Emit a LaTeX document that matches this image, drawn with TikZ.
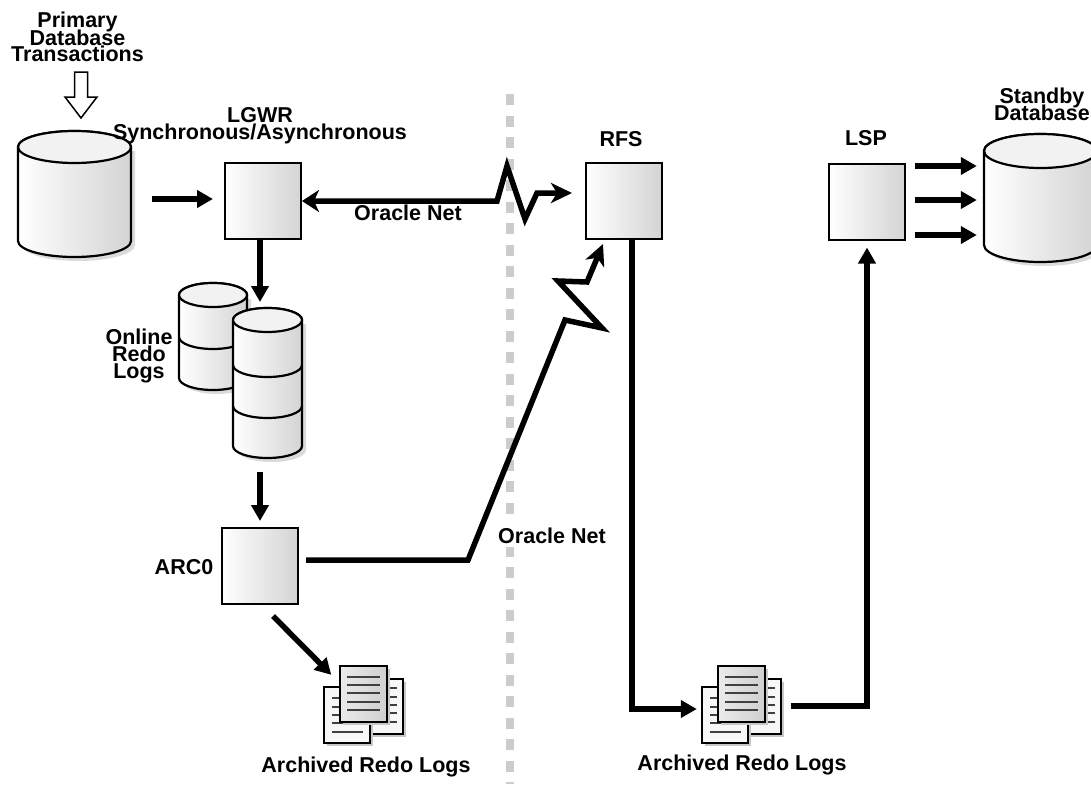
\documentclass[tikz,border=0pt]{standalone}
\usepackage{fontspec}
\setmainfont{Liberation Sans}
\usetikzlibrary{arrows.meta,calc}
\newcommand\lblfont{\fontsize{21.5}{17}\selectfont\bfseries\lineskiplimit-50pt\relax}
\newcommand\dbcyl[5]{% cx, ytop, ybot, rx, ry
  \fill[black!14] (#1-#4+4,#2+4) -- (#1-#4+4,#3+4) arc[start angle=180,end angle=0,x radius=#4,y radius=#5]
    -- (#1+#4+4,#2+4) -- cycle;
  \path[draw, line width=2.2pt, left color=white, right color=black!17]
    (#1-#4,#2) -- (#1-#4,#3) arc[start angle=180,end angle=0,x radius=#4,y radius=#5]
    -- (#1+#4,#2) arc[start angle=0,end angle=-180,x radius=#4,y radius=#5] -- cycle;
  \draw[line width=2.2pt, fill=black!5] (#1,#2) ellipse[x radius=#4, y radius=#5];
}
\newcommand\dbdiv[4]{% cx, y, rx, ry
  \draw[line width=2.2pt] (#1-#3,#2) arc[start angle=180,end angle=0,x radius=#3,y radius=#4];
}
\newcommand\archicon[2]{% top-left of left page
  \begin{scope}[shift={(#1,#2)}]
    % right page
    \fill[black!22] (36,-5) rectangle (82,50);
    \draw[docpage] (33,-8) rectangle (79,47);
    \foreach \yy in {1,10,18,26,35} \draw[pline] (41,\yy) -- (73,\yy);
    % left page
    \fill[black!22] (3,3) rectangle (49,59);
    \draw[docpage] (0,0) rectangle (46,56);
    \foreach \yy in {11,20,28,36} \draw[pline] (8,\yy) -- (38,\yy);
    \draw[pline] (8,45) -- (39,45);
    % middle page
    \fill[black!22] (19,-18) rectangle (66,38);
    \draw[midpage] (16,-21) rectangle (63,35);
    \foreach \yy in {-10,-2,6,15,23} \draw[pline] (23,\yy) -- (56,\yy);
  \end{scope}
}
\begin{document}
\begin{tikzpicture}[x=1pt,y=-1pt,
  lbl/.style={font=\lblfont, inner sep=0pt, align=center},
  box/.style={draw, line width=2pt, minimum size=76pt, inner sep=0pt, left color=white, right color=black!17},
  arr/.style={line width=5.5pt, line join=miter, -{Triangle[length=16pt,width=17pt]}},
  zz/.style={line width=5.5pt, line join=miter},
  stl/.style={-{Stealth[length=21pt,width=20pt,inset=6pt]}},
  sep/.style={line width=8pt, draw=black!20, dash pattern=on 11pt off 10.5pt},
  docpage/.style={draw=black, line width=1.4pt, fill=black!3},
  midpage/.style={draw=black, line width=1.4pt, left color=black!8, right color=black!19},
  pline/.style={line width=1.3pt, draw=black!75},
]
\useasboundingbox (0,0) rectangle (1091,784);

% separator
\draw[sep] (510,94) -- (510,784);

% primary database
\dbcyl{74.5}{147}{241}{56.5}{16}
\node[inner sep=0pt, minimum width=115pt, minimum height=130pt] (pdb) at (74.5,195) {};
\draw[line width=1.5pt, fill=white] (74.5,72) -- (87.5,72) -- (87.5,97) -- (97,97) -- (81,118) -- (65,97) -- (74.5,97) -- cycle;
\node[lbl, anchor=base] (ptx) at (77.5,62) {Primary\\Database\\Transactions};

% standby database
\dbcyl{1040.5}{151}{245}{56.5}{17}
\node[inner sep=0pt, minimum width=115pt, minimum height=130pt] (sdb) at (1040.5,198) {};
\node[lbl, anchor=base] (sbl) at (1042,120) {Standby\\Database};

% online redo logs
\dbcyl{213}{295}{378}{34}{12}
\dbdiv{213}{337}{34}{12}
\dbcyl{267.5}{320}{446}{34.5}{12}
\dbdiv{267.5}{365}{34.5}{12}
\dbdiv{267.5}{406}{34.5}{12}
\coordinate (redoin) at (260,302);
\coordinate (redoout) at (260,472);
\node[lbl, anchor=base] (orl) at (139,378) {Online\\Redo\\Logs};

% process boxes
\node[box] (lgwr) at (263,201) {};
\node[box] (rfs) at (624,201) {};
\node[box] (lsp) at (867,201.5) {};
\node[box] (arc0) at (260,566) {};

\node[lbl, anchor=base] (lgwrl) at (260,139) {LGWR\\Synchronous/Asynchronous};
\node[lbl, anchor=base] (rfsl) at (621,146) {RFS};
\node[lbl, anchor=base] (lspl) at (866,145) {LSP};
\node[lbl, anchor=base] (arcl) at (184,574) {ARC0};
\node[lbl, anchor=base] (on1) at (408,220) {Oracle Net};

% archived redo logs
\archicon{324}{687}
\node[inner sep=0pt, minimum width=80pt, minimum height=77pt] (ar1) at (363.5,704.5) {};
\archicon{702}{687}
\node[inner sep=0pt, minimum width=80pt, minimum height=77pt] (ar2) at (742,704.5) {};
\node[lbl, anchor=base] (al1) at (366,772) {Archived Redo Logs};
\node[lbl, anchor=base] (al2) at (742,770) {Archived Redo Logs};

% connectors
\draw[arr] ($(pdb.east |- lgwr.west)+(20,-2)$) -- ($(lgwr.west)+(-11,-2)$);
\draw[zz, {Stealth[length=17pt,width=22pt,inset=5pt]}-{Stealth[length=21pt,width=20pt,inset=6pt]}]
  (lgwr.east) -- ++(195,0) -- ++(10,-35) -- ++(18,53) -- ++(12,-26) -- ($(rfs.west)+(-13,-8)$);
\draw[zz, stl] ($(arc0.east)+(7,-6)$) -- (468,560) -- (565,320) -- (602,328) -- (558,281) -- (587,282) -- ($(rfs.south west)+(18,4)$);
\draw[arr] ($(lgwr.south)+(-3,0)$) -- (redoin);
\draw[arr] (redoout) -- ($(arc0.north)+(0,-6)$);
\draw[arr] ($(arc0.south)+(13,11)$) -- ($(ar1.north west)+(8,9)$);
\draw[arr] ($(rfs.south)+(8,0)$) |- ($(ar2.west)+(-5,4.5)$);
\draw[arr] ($(ar2.east)+(9,1.5)$) -| ($(lsp.south)+(0,7)$);
\foreach \dy in {-35.5,-1.5,33.5}
  \draw[arr] ($(lsp.east)+(9,\dy)$) -- ($(sdb.west |- lsp.east)+(-6,\dy)$);

\node[lbl, anchor=base, fill=white, inner sep=4pt] (on2) at (552,543) {Oracle Net};
\end{tikzpicture}
\end{document}
